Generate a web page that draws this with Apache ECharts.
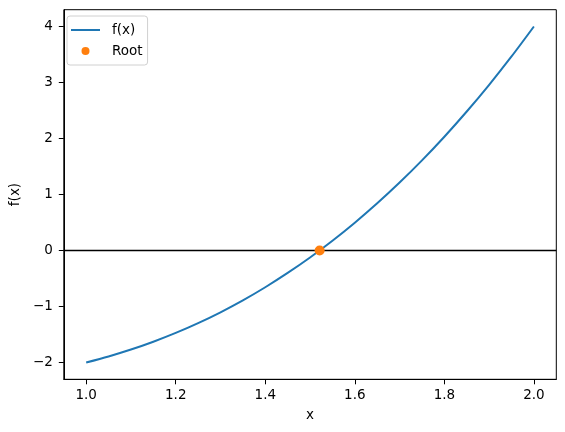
<!DOCTYPE html>
<html>
<head>
<meta charset="utf-8">
<script src="https://cdn.jsdelivr.net/npm/echarts@6/dist/echarts.min.js"></script>
<style>html,body{margin:0;padding:0;background:#fff;}#c{width:565px;height:432px;}</style>
</head>
<body>
<div id="c"></div>
<script>
// Values
const xValues = [1.00,1.05,1.10,1.15,1.20,1.25,1.30,1.35,1.40,1.45,1.50,1.55,1.60,1.65,1.70,1.75,1.80,1.85,1.90,1.95,2.00];
const fValues = [-2.000,-1.892,-1.769,-1.629,-1.472,-1.297,-1.103,-0.890,-0.656,-0.401,-0.125,0.174,0.496,0.842,1.213,1.609,2.032,2.482,2.959,3.465,4.000];
const rootX = [1.5214];
const rootY = [0];
const xTicks = [1.0,1.2,1.4,1.6,1.8,2.0];
const yTicks = [-2,-1,0,1,2,3,4];

const font = 'DejaVu Sans';
const chart = echarts.init(document.getElementById('c'), null, {renderer:'canvas'});
const fmt = v => String(v).replace('-', '\u2212');
chart.setOption({
  animation:false,
  backgroundColor:'#fff',
  grid:{left:60.5, right:8.7, top:9.7, bottom:52.7, show:true, borderColor:'#000', borderWidth:1, containLabel:false},
  xAxis:{type:'value', min:0.95, max:2.05, name:'x', nameLocation:'middle', nameGap:29,
    nameTextStyle:{fontFamily:font, fontSize:13.5, color:'#000'},
    axisLine:{show:true, onZero:false, lineStyle:{color:'#000', width:1}},
    axisTick:{show:true, length:5, inside:false, customValues:xTicks, lineStyle:{color:'#000'}},
    axisLabel:{customValues:xTicks, margin:9, fontFamily:font, fontSize:13.5, color:'#000', formatter:v=>Number(v).toFixed(1)},
    splitLine:{show:false}},
  yAxis:{type:'value', min:-2.3, max:4.3, name:'f(x)', nameLocation:'middle', nameGap:39, nameRotate:90,
    nameTextStyle:{fontFamily:font, fontSize:13.5, color:'#000'},
    axisLine:{show:true, onZero:false, lineStyle:{color:'#000', width:1}},
    axisTick:{show:true, length:5, inside:false, customValues:yTicks, lineStyle:{color:'#000'}},
    axisLabel:{customValues:yTicks, margin:11, fontFamily:font, fontSize:13.5, color:'#000', formatter:v=>fmt(v)},
    splitLine:{show:false}},
  legend:{orient:'vertical', left:67, top:16, padding:[7,5,7,4], itemGap:7, itemWidth:29, itemHeight:8,
    backgroundColor:'rgba(255,255,255,0.8)', borderColor:'#d0d0d0', borderWidth:1, borderRadius:3,
    textStyle:{fontFamily:font, fontSize:13.5, color:'#000', padding:[0,0,0,7]},
    data:[{name:'f(x)', icon:'path://M0,0 L29,0 L29,2 L0,2 Z'}, {name:'Root', icon:'circle', itemStyle:{opacity:1}}]},
  series:[
    {name:'f(x)', type:'line', data:xValues.map((x,i)=>[x,fValues[i]]), smooth:0.3, showSymbol:false,
     lineStyle:{color:'#1f77b4', width:2}, itemStyle:{color:'#1f77b4'}, z:2,
     markLine:{silent:true, symbol:['none','none'], label:{show:false}, lineStyle:{color:'#000', width:1.3, type:'solid'},
       data:[{yAxis:0}]}},
    {name:'Root', type:'scatter', data:rootX.map((x,i)=>[x,rootY[i]]), symbol:'circle', symbolSize:10,
     itemStyle:{color:'#ff7f0e', opacity:1}, z:5}
  ]
});
</script>
</body>
</html>
